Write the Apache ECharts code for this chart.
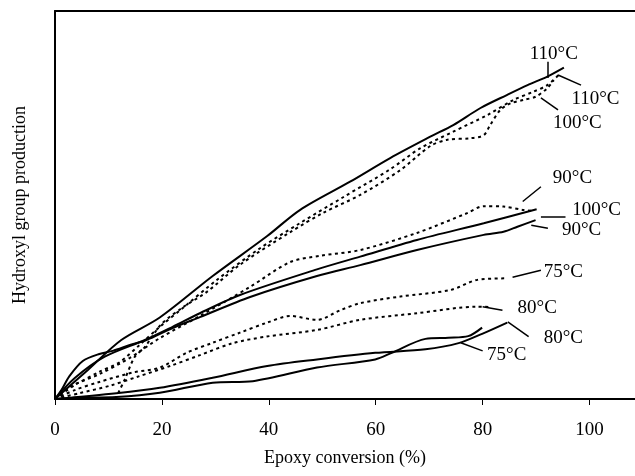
<!DOCTYPE html>
<html>
<head>
<meta charset="utf-8">
<script src="https://cdn.jsdelivr.net/npm/echarts@6/dist/echarts.min.js"></script>
<style>html,body{margin:0;padding:0;background:#fff}#c{width:635px;height:476px}</style>
</head>
<body>
<div id="c"></div>
<script>
// x: epoxy conversion (%), y: hydroxyl group production (arbitrary units)
const xTicks = [0, 20, 40, 60, 80, 100];

const solid110 = [[0,0],[6.15,7.5],[12.4,15.2],[19.6,21.0],[29.5,31.7],[39.7,42.0],[45.8,48.7],[55.2,56.0],[62.7,62.1],[70.2,67.6],[74.5,70.6],[79.6,75.0],[84.6,78.4],[88.4,80.9],[92.1,83.1],[95.2,85.4]];
const dotted110 = [[0,0],[3.7,3.6],[8.3,7.0],[12.1,9.5],[15.8,13.9],[19.6,18.6],[24.3,23.9],[30.2,30.6],[38.3,38.8],[45.8,45.3],[53.9,52.0],[62.7,59.2],[68.3,64.6],[74.5,68.9],[80.9,73.2],[85.8,77.1],[89.5,79.2],[92.1,80.9],[94.2,83.5]];
const dotted100top = [[11.25,0],[12.1,2.3],[13.0,4.9],[14.9,10.8],[16.8,13.4],[19.9,19.3],[23.9,23.6],[28.4,27.6],[34.6,34.6],[44.0,43.0],[50.2,48.0],[57.1,52.6],[64.6,59.0],[70.2,65.2],[73.4,66.8],[77.7,67.2],[80.2,68.0],[81.4,70.6],[83.3,74.5],[85.2,76.2],[87.7,77.1],[89.9,77.9],[92.1,80.1],[93.3,82.2]];
const dotted90 = [[0,0],[2.7,3.1],[8.3,6.4],[14.0,10.6],[19.6,15.7],[27.1,21.4],[36.5,28.9],[44.0,35.3],[49.6,36.9],[57.1,38.4],[67.7,42.8],[77.1,47.9],[80.2,49.7],[83.9,49.6],[87.7,48.7],[89.5,48.5]];
const solid100 = [[0,0],[3.7,5.4],[9.3,10.9],[16.8,15.2],[22.0,18.6],[27.1,22.1],[34.6,26.8],[49.0,33.4],[57.1,36.7],[67.7,41.0],[80.2,45.3],[90.1,48.9]];
const solid90 = [[0,0],[1.2,2.3],[2.7,5.9],[5.2,9.8],[8.3,11.6],[10.8,12.4],[14.0,13.9],[17.1,15.2],[22.0,18.3],[27.1,21.1],[36.5,26.3],[49.0,31.7],[57.1,34.5],[67.7,38.4],[80.2,42.3],[83.9,43.1],[86.5,44.4],[89.9,46.1]];
const dotted75 = [[0,0],[3.7,2.3],[8.3,4.4],[14.5,6.8],[19.6,8.1],[24.6,11.9],[29.5,14.5],[34.6,17.1],[39.7,19.7],[44.0,21.4],[49.0,20.4],[53.4,22.9],[57.1,24.7],[64.6,26.4],[74.0,28.1],[79.0,30.7],[84.6,31.1]];
const dotted80 = [[0,0],[4.6,1.5],[10.2,3.4],[15.8,5.9],[21.5,8.5],[27.1,11.3],[33.3,14.4],[39.6,16.1],[49.0,17.8],[57.1,20.4],[67.7,22.1],[79.0,23.8],[81.5,23.7]];
const solid80 = [[0,0],[11.5,1.5],[19.6,2.9],[29.5,5.5],[39.7,8.5],[49.0,10.2],[59.9,11.9],[69.3,12.8],[75.5,14.4],[79.9,16.8],[84.6,19.7]];
const solid75 = [[0,0],[3.7,0.3],[11.5,0.5],[19.6,1.6],[29.5,4.2],[37.0,4.6],[49.0,8.1],[59.9,10.2],[63.0,11.9],[69.3,15.5],[73.6,15.8],[77.3,16.2],[79.9,18.4]];

// annotation texts and their anchors (data units)
const labelTexts = ['110°C','110°C','100°C','90°C','100°C','90°C','75°C','80°C','80°C','75°C'];
const labelAnchors = [[93.4,88.7],[101.2,77.3],[97.8,70.9],[96.9,56.7],[101.4,48.5],[98.6,43.3],[95.2,32.7],[90.3,23.2],[95.2,15.5],[84.6,11.3]];
const leaderLines = [
  [[92.2,86.9],[92.2,82.7]],
  [[94.1,83.5],[98.4,80.9]],
  [[90.9,77.6],[94.1,74.5]],
  [[87.5,50.9],[90.9,54.7]],
  [[90.9,47.0],[95.5,47.0]],
  [[89.1,44.8],[92.2,44.0]],
  [[85.6,31.4],[90.9,33.2]],
  [[80.0,23.8],[83.7,22.9]],
  [[84.7,19.9],[88.6,16.1]],
  [[75.9,14.5],[80.0,12.4]]
];

const FONT = 'Liberation Serif';
const chart = echarts.init(document.getElementById('c'), null, {renderer:'canvas'});

function lineSeries(name, data, dotted) {
  return {
    name: name, type: 'line', data: data, smooth: 0.3, symbol: 'none',
    xAxisIndex: 0, yAxisIndex: 0,
    lineStyle: {color: '#000', width: 2, type: dotted ? [3, 3.5] : 'solid'},
    emphasis: {disabled: true},
    z: 3, animation: false
  };
}

const option = {
  animation: false,
  backgroundColor: '#fff',
  grid: {left: 55, right: 0, top: 11, bottom: 77, containLabel: false},
  xAxis: [{
    type: 'value', min: 0, max: 108.5, interval: 20,
    position: 'bottom',
    axisLine: {show: true, lineStyle: {color: '#000', width: 2}},
    axisTick: {show: true, inside: false, length: 6, customValues: xTicks, lineStyle: {color: '#000', width: 1}},
    axisLabel: {show: true, margin: 22, fontFamily: FONT, fontSize: 19, color: '#000', customValues: xTicks},
    splitLine: {show: false},
    name: 'Epoxy conversion (%)', nameLocation: 'middle', nameGap: 50,
    nameTextStyle: {fontFamily: FONT, fontSize: 18, color: '#000'}
  }, {
    type: 'value', min: 0, max: 108.5, position: 'top',
    axisLine: {show: true, onZero: false, lineStyle: {color: '#000', width: 2}},
    axisTick: {show: false}, axisLabel: {show: false}, splitLine: {show: false}
  }],
  yAxis: [{
    type: 'value', min: 0, max: 100,
    axisLine: {show: true, lineStyle: {color: '#000', width: 2}},
    axisTick: {show: false}, axisLabel: {show: false}, splitLine: {show: false},
    name: 'Hydroxyl group production', nameLocation: 'middle', nameGap: 26,
    nameTextStyle: {fontFamily: FONT, fontSize: 18, color: '#000'}
  }],
  series: [
    lineSeries('110 solid', solid110, false),
    lineSeries('110 dotted', dotted110, true),
    lineSeries('100 dotted', dotted100top, true),
    lineSeries('90 dotted', dotted90, true),
    lineSeries('100 solid', solid100, false),
    lineSeries('90 solid', solid90, false),
    lineSeries('75 dotted', dotted75, true),
    lineSeries('80 dotted', dotted80, true),
    lineSeries('80 solid', solid80, false),
    lineSeries('75 solid', solid75, false),
    {
      name: 'leaders', type: 'line', data: [], symbol: 'none', silent: true,
      markLine: {
        silent: true, symbol: ['none','none'], animation: false,
        label: {show: false},
        lineStyle: {color: '#000', width: 1.5, type: 'solid'},
        emphasis: {disabled: true},
        data: leaderLines.map(seg => [{coord: seg[0]}, {coord: seg[1]}])
      }
    },
    {
      name: 'labels', type: 'scatter', symbolSize: 1, silent: true,
      itemStyle: {color: '#000', opacity: 0},
      emphasis: {disabled: true},
      data: labelAnchors.map((p, i) => ({value: p, name: labelTexts[i]})),
      label: {show: true, position: [0, 0], align: 'center', verticalAlign: 'middle',
        formatter: p => p.name, fontFamily: FONT, fontSize: 19, color: '#000',
        textBorderWidth: 0, opacity: 1},
      labelLayout: {hideOverlap: false},
      z: 5
    }
  ]
};
chart.setOption(option);
</script>
</body>
</html>
